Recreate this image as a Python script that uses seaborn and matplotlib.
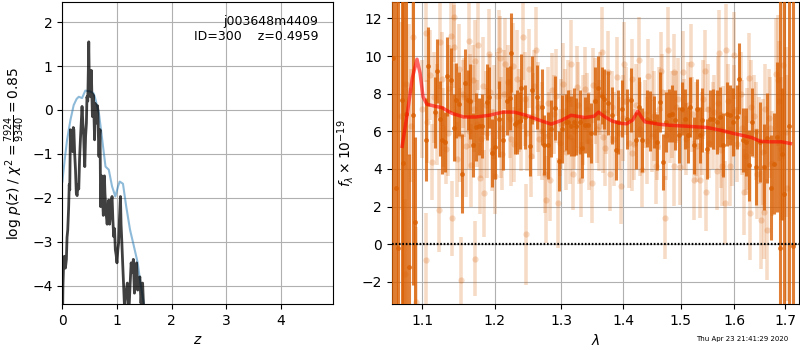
import matplotlib
matplotlib.use('Agg')
import matplotlib.pyplot as plt
import matplotlib.ticker as mticker
import seaborn as sns

# redshift fit: log p(z) (black) and chi2-based curve (blue)
black_z = [0.005, 0.01, 0.02, 0.037, 0.055, 0.073, 0.085, 0.098, 0.115, 0.125,
           0.135, 0.142, 0.147, 0.16, 0.17, 0.18, 0.19, 0.2, 0.21, 0.225,
           0.24, 0.255, 0.27, 0.285, 0.30, 0.315, 0.33, 0.345, 0.36, 0.375,
           0.39, 0.40, 0.41, 0.425, 0.44, 0.45, 0.465, 0.475, 0.483, 0.49,
           0.50, 0.515, 0.53, 0.545, 0.55, 0.56, 0.57, 0.58, 0.59, 0.60,
           0.615, 0.63, 0.64, 0.65, 0.66, 0.67, 0.68, 0.69, 0.70, 0.71,
           0.72, 0.735, 0.75, 0.76, 0.77, 0.78, 0.79, 0.805, 0.82, 0.835,
           0.85, 0.865, 0.88, 0.895, 0.91, 0.925, 0.94, 0.955, 0.97, 0.985,
           1.0, 1.015, 1.03, 1.045, 1.064, 1.075, 1.09, 1.105, 1.12, 1.14,
           1.16, 1.19, 1.205, 1.22, 1.24, 1.26, 1.28, 1.30, 1.32, 1.34,
           1.36, 1.38, 1.40, 1.42, 1.44, 1.455, 1.47, 1.49]
black_logp = [-4.5, -4.0, -3.6, -3.33, -3.6, -3.4, -2.9, -2.73, -2.2, -1.7,
              -1.82, -1.0, -0.45, -0.9, -0.5, -0.6, -0.95, -0.4, -0.45, -1.0,
              -1.36, -1.9, -1.95, -1.7, -1.8, -1.1, -0.68, -0.3, 0.08, -0.3,
              -0.6, -1.0, -1.29, -0.6, -0.3, 0.3, 0.2, 0.9, 1.55, 0.9,
              0.75, 0.3, 0.9, 0.1, -0.15, 0.35, 0.3, -0.2, -0.68, 0.15,
              -0.1, -0.3, 0.1, 0.0, -0.6, -1.06, -0.6, -0.45, -2.2, -1.8,
              -1.5, -2.0, -2.4, -1.9, -1.5, -1.9, -2.1, -2.4, -2.6, -2.3,
              -2.05, -2.6, -2.4, -2.1, -1.97, -2.5, -2.88, -2.7, -3.18, -3.3,
              -3.48, -3.2, -3.03, -2.5, -1.97, -2.6, -3.03, -3.5, -3.94, -4.55,
              -4.2, -3.94, -4.3, -4.55, -4.0, -3.48, -3.7, -3.4, -4.17, -3.9,
              -3.48, -4.1, -3.9, -3.8, -4.4, -4.1, -3.94, -4.55]

blue_z = [0.0, 0.01, 0.05, 0.086, 0.147, 0.207, 0.26, 0.30, 0.36, 0.42,
          0.51, 0.57, 0.60, 0.67, 0.73, 0.79, 0.85, 0.91, 0.97, 1.02,
          1.05, 1.11, 1.17, 1.24, 1.31, 1.38, 1.43, 1.49]
blue_logp = [-1.63, -1.5, -1.05, -0.68, -0.23, 0.11, 0.25, 0.3, 0.27, 0.44,
             0.42, 0.38, 0.27, -0.08, -0.68, -1.29, -1.36, -1.74, -1.97, -1.74,
             -1.63, -1.68, -2.2, -2.73, -3.1, -3.48, -3.94, -4.39]

# binned spectrum (dark points)
dark_wave = [1.0622, 1.0655, 1.0688, 1.0731, 1.0752, 1.0787, 1.0831, 1.0874, 1.0900, 1.1044, 1.1080, 1.1170,
             1.1192, 1.1238, 1.1269, 1.1306, 1.1337, 1.1383, 1.1420, 1.1452, 1.1499, 1.1535,
             1.1582, 1.1615, 1.1647, 1.1685, 1.1732, 1.1770, 1.1817, 1.1885, 1.1923, 1.1961,
             1.1996, 1.2058, 1.2117, 1.2175, 1.2215, 1.2239, 1.2289, 1.2323, 1.2364, 1.2387,
             1.2438, 1.2523, 1.2553, 1.2625, 1.2697, 1.2737, 1.2789, 1.2840, 1.2902, 1.2954,
             1.3012, 1.3064, 1.3102, 1.3143, 1.3191, 1.3234, 1.3287, 1.3330, 1.3367, 1.3422,
             1.3476, 1.3530, 1.3586, 1.3640, 1.3685, 1.3751, 1.3806, 1.3878, 1.3918, 1.3974,
             1.4058, 1.4132, 1.4212, 1.4259, 1.4316, 1.4402, 1.4460, 1.4519, 1.4583, 1.4636,
             1.4684, 1.4742, 1.4796, 1.4844, 1.4903, 1.4965, 1.5025, 1.5085, 1.5134, 1.5176,
             1.5239, 1.5287, 1.5349, 1.5392, 1.5486, 1.5536, 1.5598, 1.5660, 1.5725, 1.5788,
             1.5851, 1.5916, 1.5980, 1.6057, 1.6096, 1.6160, 1.6227, 1.6278, 1.6345, 1.6424,
             1.6490, 1.6584, 1.6636, 1.6717, 1.6771, 1.6838, 1.6893, 1.6934, 1.6975, 1.7072,
             1.7167]
dark_flux = [9.87, 3.0, -0.2, 7.65, 4.3, 6.9, -1.2, 6.85, 1.2, 5.55, 9.45, 7.0,
             9.2, 6.67, 5.52, 5.43, 8.92, 8.75, 6.2, 7.65, 7.43, 3.75,
             8.55, 7.65, 7.6, 5.25, 6.22, 6.26, 6.26, 7.55, 7.8, 4.86,
             5.17, 6.65, 5.55, 7.6, 7.75, 10.17, 6.4, 6.5, 6.57, 8.3,
             6.75, 5.23, 8.2, 7.82, 7.29, 5.25, 5.25, 6.14, 7.25, 4.4,
             6.14, 6.5, 6.5, 6.26, 6.5, 6.26, 6.5, 5.11, 6.32, 6.32,
             5.91, 7.6, 8.32, 7.9, 7.7, 7.5, 6.85, 5.0, 6.5, 7.2,
             6.67, 7.65, 5.52, 7.29, 5.52, 6.67, 6.55, 6.5, 5.43, 7.56,
             4.37, 6.5, 6.85, 6.94, 6.58, 5.79, 7.2, 6.67, 5.79, 7.29,
             5.25, 7.2, 5.79, 6.58, 5.07, 6.67, 6.67, 6.5, 6.76, 5.25,
             6.94, 6.85, 6.5, 6.76, 8.8, 5.52, 5.43, 4.19, 6.5, 4.1,
             5.43, 4.1, 5.66, 3.0, 4.28, 5.7, -0.23, 4.79, 2.68, 6.27,
             -0.1]
dark_err = [25, 25, 20, 18, 10, 12, 6, 9, 4.5, 2.2, 2.1, 1.9,
            1.7, 2.0, 1.8, 1.6, 2.1, 1.7, 1.8, 2.0, 1.7, 2.1,
            1.8, 1.6, 2.0, 1.7, 1.8, 1.5, 1.7, 2.0, 1.6, 1.8,
            1.7, 2.0, 1.6, 1.8, 1.7, 2.1, 1.6, 1.7, 1.5, 1.8,
            1.7, 1.6, 1.8, 1.7, 2.0, 1.6, 1.8, 1.5, 1.7, 1.6,
            1.8, 1.5, 1.7, 1.6, 1.8, 1.5, 1.7, 1.6, 1.5, 1.7,
            1.6, 1.8, 1.7, 1.5, 1.6, 1.7, 1.5, 1.6, 1.7, 1.5,
            1.6, 1.7, 1.5, 1.6, 1.7, 1.5, 1.6, 1.4, 1.5, 1.6,
            1.5, 1.6, 1.4, 1.5, 1.6, 1.5, 1.4, 1.6, 1.5, 1.6,
            1.5, 1.6, 1.5, 1.7, 1.6, 1.5, 1.6, 1.7, 1.6, 1.7,
            1.7, 1.6, 1.8, 1.7, 1.9, 1.7, 1.8, 1.9, 1.8, 2.0,
            2.1, 2.3, 2.4, 2.8, 2.7, 4.0, 14, 3.5, 16, 18,
            25]

# unbinned spectrum (light points)
light_wave = [1.0720, 1.0780, 1.0785, 1.0820, 1.0846, 1.0876, 1.0911, 1.1044, 1.1053, 1.1066,
              1.1133, 1.1150, 1.1225, 1.1232, 1.1280, 1.1314, 1.1360, 1.1390, 1.1397, 1.1420,
              1.1429, 1.1470, 1.1515, 1.1521, 1.1550, 1.1568, 1.1628, 1.1630, 1.1660, 1.1685,
              1.1710, 1.1717, 1.1723, 1.1755, 1.1785, 1.1800, 1.1845, 1.1870, 1.1912, 1.1934,
              1.1960, 1.2000, 1.2030, 1.2058, 1.2075, 1.2100, 1.2153, 1.2190, 1.2215, 1.2270,
              1.2280, 1.2360, 1.2410, 1.2453, 1.2480, 1.2503, 1.2533, 1.2580, 1.2610, 1.2660,
              1.2745, 1.2763, 1.2790, 1.2828, 1.2850, 1.2890, 1.2945, 1.2980, 1.3020, 1.3075,
              1.3100, 1.3150, 1.3176, 1.3200, 1.3240, 1.3280, 1.3312, 1.3375, 1.3400, 1.3487,
              1.3505, 1.3570, 1.3620, 1.3650, 1.3668, 1.3700, 1.3740, 1.3778, 1.3820, 1.3890,
              1.3930, 1.3962, 1.4020, 1.4050, 1.4140, 1.4155, 1.4180, 1.4270, 1.4325, 1.4370,
              1.4430, 1.4488, 1.4500, 1.4558, 1.4580, 1.4645, 1.4660, 1.4713, 1.4772, 1.4800,
              1.4875, 1.4885, 1.4920, 1.4993, 1.5045, 1.5100, 1.5180, 1.5200, 1.5245, 1.5300,
              1.5360, 1.5410, 1.5451, 1.5469, 1.5520, 1.5620, 1.5665, 1.5706, 1.5740, 1.5767,
              1.5810, 1.5830, 1.5880, 1.5905, 1.5993, 1.6040, 1.6120, 1.6185, 1.6220, 1.6282,
              1.6300, 1.6380, 1.6441, 1.6480, 1.6520, 1.6572, 1.6600, 1.6645, 1.6675, 1.6730,
              1.6810, 1.6850, 1.6870, 1.6913, 1.6960, 1.7015, 1.7050,
              1.1000, 1.1100, 1.1190, 1.1260, 1.1340, 1.1440, 1.1490, 1.1590, 1.1650, 1.1740,
              1.1830, 1.1890, 1.1990, 1.2090, 1.2130, 1.2240, 1.2320, 1.2390, 1.2440, 1.2560,
              1.2640, 1.2700, 1.2810, 1.2920, 1.3000, 1.3050, 1.3130, 1.3260, 1.3340, 1.3440,
              1.3530, 1.3600, 1.3720, 1.3850, 1.3990, 1.4090, 1.4220, 1.4290, 1.4400, 1.4530,
              1.4610, 1.4740, 1.4840, 1.4960, 1.5060, 1.5140, 1.5270, 1.5380, 1.5500, 1.5590,
              1.5690, 1.5790, 1.5950, 1.6000, 1.6150, 1.6250, 1.6330, 1.6420, 1.6550, 1.6700]
light_flux = [6.8, -1.6, 8.5, 8.2, 6.3, 11.0, -3.1, -0.86, 11.2, 6.5,
              4.37, 7.8, 1.8, 10.75, 6.2, 5.08, 8.3, 11.05, 1.37, 12.1,
              10.5, 4.5, 5.8, -1.9, 8.0, 7.82, 10.8, 6.0, 4.2, 8.7,
              7.2, -0.77, 9.73, 10.6, 3.5, 5.6, 2.7, 7.4, 10.1, 8.1,
              5.0, 3.62, 7.9, 10.34, 9.91, 4.8, 9.6, 8.6, 6.67, 9.45,
              5.3, 7.1, 11.0, 0.52, 5.9, 9.33, 4.71, 8.4, 10.3, 5.6,
              3.74, 2.36, 7.5, 3.43, 8.18, 6.9, 2.2, 5.4, 8.5, 4.9,
              7.7, 9.6, 3.74, 6.0, 8.33, 5.0, 3.43, 8.27, 7.2, 3.25,
              8.45, 6.1, 8.0, 10.2, 5.7, 5.1, 9.15, 3.74, 7.3, 8.9,
              5.9, 3.07, 9.6, 7.6, 4.85, 8.8, 5.3, 9.77, 3.96, 6.9,
              8.92, 5.74, 7.8, 4.14, 5.2, 9.2, 8.1, 1.4, 10.3, 6.2,
              9.15, 4.14, 7.3, 4.1, 9.15, 5.6, 9.6, 6.9, 3.4, 5.2,
              3.4, 7.7, 9.2, 2.78, 5.4, 7.0, 3.9, 10.16, 5.0, 4.14,
              2.2, 10.34, 7.6, 4.14, 10.04, 5.3, 8.0, 2.78, 4.7, 8.85,
              1.66, 6.8, 3.74, 5.5, 1.3, 1.7, 7.2, 0.77, 6.72, 4.3,
              9.03, 8.7, 7.6, 5.07, 9.5, 5.96, 3.0,
              7.2, 9.0, 6.9, 8.8, 5.9, 7.0, 9.3, 5.2, 7.6, 6.4,
              8.4, 5.9, 7.0, 6.2, 8.0, 5.6, 8.8, 6.3, 7.7, 6.8,
              7.3, 6.0, 5.8, 7.9, 6.4, 7.1, 5.7, 7.4, 6.6, 5.5,
              7.6, 6.3, 7.0, 5.6, 6.7, 5.4, 7.4, 6.1, 5.5, 6.8,
              7.2, 5.8, 6.9, 7.7, 6.4, 7.4, 6.1, 5.9, 7.2, 6.3,
              7.5, 6.0, 5.7, 7.1, 6.2, 5.6, 7.3, 6.0, 4.9, 6.2]
light_err = [5.0, 4.0, 4.5, 3.5, 3.0, 3.0, 4.0, 2.5, 2.6, 2.2,
             2.0, 2.4, 2.2, 2.5, 2.1, 1.9, 2.3, 2.6, 2.0, 2.4,
             2.2, 2.0, 2.5, 2.3, 1.8, 2.1, 2.4, 2.0, 2.2, 1.9,
             2.3, 2.0, 2.2, 2.4, 1.9, 2.1, 2.3, 1.8, 2.4, 2.0,
             2.2, 2.0, 2.3, 2.1, 2.2, 1.9, 2.4, 2.0, 2.1, 2.3,
             2.0, 2.2, 2.3, 2.7, 2.0, 2.1, 2.2, 1.9, 2.3, 2.0,
             2.1, 2.3, 1.9, 2.2, 2.0, 2.1, 2.4, 1.8, 2.2, 2.0,
             2.1, 2.3, 1.9, 2.0, 2.2, 1.8, 2.0, 2.2, 1.9, 2.1,
             2.0, 1.8, 2.2, 2.4, 1.9, 2.0, 2.2, 2.0, 1.9, 2.1,
             1.9, 2.0, 2.2, 1.8, 2.0, 2.1, 1.9, 2.3, 2.0, 1.8,
             2.0, 1.9, 2.1, 2.0, 1.8, 2.1, 2.0, 2.2, 2.3, 1.9,
             2.0, 2.1, 1.9, 2.0, 2.2, 1.9, 2.1, 2.0, 2.1, 1.9,
             2.0, 2.1, 2.2, 2.1, 1.9, 2.0, 2.1, 2.3, 2.0, 2.1,
             2.2, 2.4, 2.0, 2.1, 2.3, 2.0, 2.2, 2.3, 2.1, 2.4,
             2.5, 2.2, 2.4, 2.3, 2.6, 2.5, 2.4, 2.7, 2.6, 2.8,
             3.0, 3.5, 3.2, 3.8, 5.0, 4.5, 6.0,
             2.6, 2.4, 2.7, 2.5, 2.3, 2.6, 2.4, 2.7, 2.5, 2.3,
             2.6, 2.4, 2.5, 2.7, 2.3, 2.5, 2.6, 2.4, 2.5, 2.3,
             2.4, 2.6, 2.3, 2.5, 2.4, 2.2, 2.5, 2.3, 2.4, 2.6,
             2.3, 2.4, 2.2, 2.5, 2.3, 2.4, 2.2, 2.5, 2.3, 2.4,
             2.2, 2.4, 2.3, 2.2, 2.4, 2.3, 2.5, 2.2, 2.4, 2.3,
             2.5, 2.4, 2.6, 2.4, 2.5, 2.7, 2.5, 2.6, 2.8, 2.7]

# best-fit model
model_wave = [1.0737, 1.080, 1.087, 1.093, 1.097, 1.101, 1.106, 1.117, 1.126, 1.140,
              1.156, 1.173, 1.192, 1.212, 1.228, 1.246, 1.265, 1.284, 1.300, 1.315,
              1.337, 1.352, 1.359, 1.368, 1.381, 1.395, 1.406, 1.416, 1.4247, 1.431,
              1.437, 1.46, 1.48, 1.51, 1.548, 1.573, 1.599, 1.633, 1.65, 1.667,
              1.693, 1.711]
model_flux = [5.2, 6.85, 8.85, 9.83, 9.1, 7.83, 7.44, 7.33, 7.26, 6.95,
              6.76, 6.76, 6.85, 7.02, 7.02, 6.85, 6.6, 6.38, 6.58, 6.85,
              6.73, 6.8, 7.02, 6.8, 6.55, 6.42, 6.4, 6.6, 7.07, 6.75,
              6.5, 6.38, 6.32, 6.27, 6.2, 6.06, 5.88, 5.67, 5.47, 5.44,
              5.44, 5.35]

wave_ticks = [1.1, 1.2, 1.3, 1.4, 1.5, 1.6, 1.7]
orange = '#d95f02'

fig = plt.figure(figsize=(8, 3.5), dpi=100)
ax1 = fig.add_axes([0.078, 0.131, 0.3383, 0.8637])
ax2 = fig.add_axes([0.4896, 0.131, 0.5095, 0.8637])

# left panel: p(z)
sns.lineplot(x=blue_z, y=blue_logp, ax=ax1, color='tab:blue', alpha=0.5, lw=1.5, errorbar=None)
sns.lineplot(x=black_z, y=black_logp, ax=ax1, color='k', alpha=0.75, lw=2, errorbar=None)
ax1.set_xlim(0, 4.96)
ax1.set_ylim(-4.42, 2.46)
ax1.set_yticks([-4, -3, -2, -1, 0, 1, 2])
ax1.set_xticks([0, 1, 2, 3, 4])
ax1.grid()
ax1.set_xlabel('$z$')
ax1.set_ylabel(r'log $p(z)$ / $\chi^2=\frac{7924}{9340}=0.85$')
ax1.text(0.945, 0.958, 'j003648m4409\nID=300    z=0.4959', ha='right', va='top',
         transform=ax1.transAxes, fontsize=9)

# right panel: spectrum
ax2.errorbar(light_wave, light_flux, yerr=light_err, fmt='o', color=orange, alpha=0.22,
             ms=4.5, elinewidth=2.6, mew=0, zorder=2)
ax2.errorbar(dark_wave, dark_flux, yerr=dark_err, fmt='o', color=orange, alpha=0.8,
             ms=3.5, elinewidth=2.2, mew=0, zorder=3)
sns.lineplot(x=model_wave, y=model_flux, ax=ax2, color='r', alpha=0.6, lw=2.5,
             errorbar=None, zorder=5)
ax2.axhline(0, color='k', lw=1.6, linestyle=(0, (0.75, 0.8)), zorder=6)
ax2.set_xscale('log')
ax2.set_xlim(1.0603, 1.7294)
ax2.set_ylim(-3.19, 12.88)
ax2.xaxis.set_minor_locator(mticker.NullLocator())
ax2.set_xticks(wave_ticks)
ax2.set_xticklabels([f'{t:.1f}' for t in wave_ticks])
ax2.set_yticks([-2, 0, 2, 4, 6, 8, 10, 12])
ax2.grid()
ax2.set_xlabel(r'$\lambda$')
ax2.set_ylabel(r'$f_\lambda\times10^{-19}$')

fig.text(0.985, 0.031, 'Thu Apr 23 21:41:29 2020', ha='right', va='center', fontsize=5)

fig.savefig('out.png', dpi=100)
